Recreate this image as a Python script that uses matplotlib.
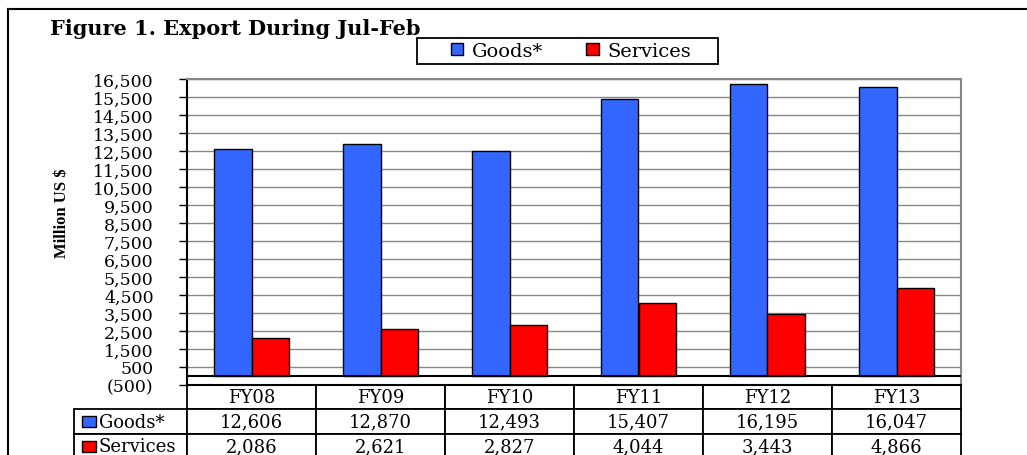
import numpy as np
import matplotlib
matplotlib.use("Agg")
import matplotlib.pyplot as plt
from matplotlib.patches import Rectangle
from matplotlib.lines import Line2D

# Dane z wykresu (mln USD, lipiec-luty)
lata = ["FY08", "FY09", "FY10", "FY11", "FY12", "FY13"]
towary = [12606, 12870, 12493, 15407, 16195, 16047]
uslugi = [2086, 2621, 2827, 4044, 3443, 4866]
serie = ["Goods*", "Services"]
kolory = ["#3366FF", "#FF0000"]
y_ticks = [-500, 500, 1500, 2500, 3500, 4500, 5500, 6500, 7500, 8500,
           9500, 10500, 11500, 12500, 13500, 14500, 15500, 16500]

plt.rcParams['font.family'] = ['DejaVu Serif']

W, H = 1027, 456
fig = plt.figure(figsize=(W / 100, H / 100), dpi=100)
ax = fig.add_axes([187 / W, 1 - 386 / H, (961 - 187) / W, (386 - 80) / H])

x = np.arange(len(lata))
szer = 0.29
ax.bar(x - szer / 2, towary, szer, color=kolory[0], edgecolor="black", linewidth=1, zorder=3)
ax.bar(x + szer / 2, uslugi, szer, color=kolory[1], edgecolor="black", linewidth=1, zorder=3)

ax.set_xlim(-0.5, len(lata) - 0.5)
ax.set_ylim(-500, 16500)
ax.set_xticks([])
ax.set_yticks(y_ticks)
ax.set_yticklabels([f"{v:,}" if v >= 0 else f"({-v:,})" for v in y_ticks], fontsize=12.5)
ax.tick_params(axis="y", direction="out", length=6, width=1, pad=18)
ax.grid(axis="y", color="#888888", linewidth=1, zorder=0)
ax.axhline(0, color="black", linewidth=1.5, zorder=4)

for s in ["top", "right"]:
    ax.spines[s].set_color("#888888")
    ax.spines[s].set_linewidth(1.5)
ax.spines["left"].set_linewidth(1.5)
ax.spines["bottom"].set_linewidth(1.5)

# Tabela danych pod wykresem
tekst = [[f"{v:,}" for v in towary], [f"{v:,}" for v in uslugi]]
tab = ax.table(cellText=tekst, rowLabels=serie, colLabels=lata,
               cellLoc="center", rowLoc="left",
               bbox=[0, -0.24, 1, 0.24])
tab._autoColumns = []
tab.auto_set_font_size(False)
tab.set_fontsize(13)
for (r, c), cell in tab.get_celld().items():
    cell.set_linewidth(1.3)
    cell.set_edgecolor("black")
    if c == -1:
        cell.set_width(113 / 774)
        cell.PAD = 0.22

# Kwadraty legendy w tabeli
for i, kol in enumerate(kolory):
    yc = -0.12 - 0.08 * i
    ax.add_patch(Rectangle((-0.1357, yc - 0.018), 0.0181, 0.036, transform=ax.transAxes,
                           facecolor=kol, edgecolor="black", linewidth=1, clip_on=False, zorder=5))

# Legenda (ramka rysowana osobno)
uchwyty = [Rectangle((0, 0), 1, 1, facecolor=k, edgecolor="black", linewidth=1) for k in kolory]
leg = fig.legend(uchwyty, serie, loc="center", bbox_to_anchor=(571 / W, 1 - 52 / H),
                 ncol=2, fontsize=14, handlelength=0.65, handleheight=0.6,
                 handletextpad=0.45, columnspacing=2.2, borderpad=0,
                 frameon=False)
fig.add_artist(Rectangle((417 / W, 1 - 65 / H), 301 / W, 26 / H, transform=fig.transFigure,
                         facecolor="none", edgecolor="black", linewidth=1.3))

fig.text(50 / W, 1 - 35 / H, "Figure 1. Export During Jul-Feb", fontsize=15,
         fontweight="bold", va="baseline", ha="left")
fig.text(62 / W, 1 - 213 / H, "Million US $", rotation=90, fontsize=12,
         fontweight="bold", va="center", ha="center",
         family=["Liberation Serif"])

# Ramka zewnętrzna
fig.add_artist(Line2D([8 / W, 8 / W], [0, 1 - 10 / H], color="black", linewidth=1.5))
fig.add_artist(Line2D([8 / W, 1], [1 - 10 / H, 1 - 10 / H], color="black", linewidth=1.5))

fig.savefig("out.png", dpi=100)
